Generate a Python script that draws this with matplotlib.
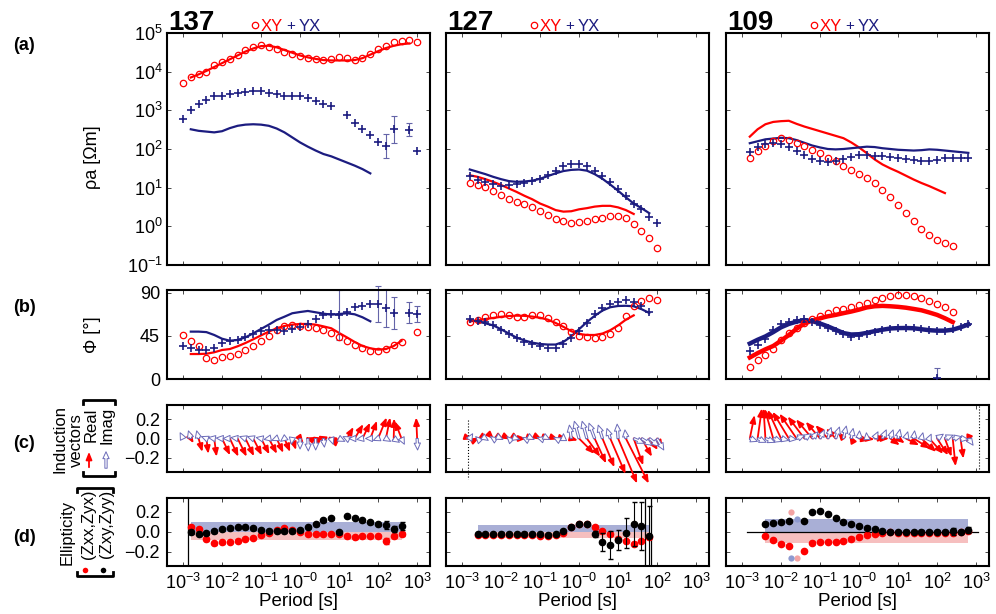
import numpy as np
import matplotlib
matplotlib.use('Agg')
import matplotlib.pyplot as plt
from matplotlib.lines import Line2D
from matplotlib.patches import FancyArrowPatch
from matplotlib.ticker import FixedLocator, NullLocator

plt.rcParams['font.family'] = ['Liberation Sans', 'DejaVu Sans']
plt.rcParams['mathtext.fontset'] = 'custom'
plt.rcParams['mathtext.rm'] = 'Liberation Sans'
plt.rcParams['mathtext.it'] = 'Liberation Sans:italic'
plt.rcParams['mathtext.bf'] = 'Liberation Sans:bold'

nan = np.nan

# ---------------- data ----------------
stations = ['137', '127', '109']

# log10 of the period [s], shared grid for every station
log_period = [-3.0, -2.8, -2.6, -2.4, -2.2, -2.0, -1.8, -1.6, -1.4, -1.2,
              -1.0, -0.8, -0.6, -0.4, -0.2, 0.0, 0.2, 0.4, 0.6, 0.8,
              1.0, 1.2, 1.4, 1.6, 1.8, 2.0, 2.2, 2.4, 2.6, 2.8, 3.0]

# apparent resistivity, log10(ohm m)
rho_xy_137 = [3.71, 3.87, 3.95, 3.99, 4.18, 4.24, 4.32, 4.44, 4.56, 4.63,
              4.69, 4.65, 4.58, 4.52, 4.45, 4.40, 4.35, 4.32, 4.30, 4.33,
              4.37, 4.35, 4.29, 4.35, 4.45, 4.58, 4.66, 4.76, 4.80, 4.82, 4.77]
model_rho_xy_137 = [nan, 3.85, 3.93, 4.02, 4.12, 4.22, 4.32, 4.42, 4.52, 4.60,
                    4.66, 4.67, 4.63, 4.56, 4.49, 4.42, 4.37, 4.33, 4.30, 4.29,
                    4.29, 4.29, 4.30, 4.35, 4.44, 4.53, 4.61, 4.67, 4.71, 4.73, nan]
rho_yx_137 = [2.77, 3.01, 3.16, 3.26, 3.36, 3.38, 3.43, 3.44, 3.48, 3.51,
              3.49, 3.44, 3.41, 3.38, 3.37, 3.36, 3.31, 3.25, 3.16, 3.11,
              nan, 2.88, 2.66, 2.52, 2.36, 2.19, 2.08, 2.51, nan, 2.50, 1.96]
err_rho_yx_137 = [nan, nan, nan, nan, nan, nan, nan, nan, nan, nan,
                  nan, nan, nan, nan, nan, nan, nan, nan, nan, nan,
                  nan, nan, nan, nan, nan, nan, 0.30, 0.35, nan, 0.16, nan]
model_rho_yx_137 = [nan, 2.51, 2.47, 2.45, 2.43, 2.46, 2.54, 2.60, 2.63, 2.64,
                    2.63, 2.60, 2.53, 2.43, 2.30, 2.17, 2.06, 1.96, 1.87, 1.81,
                    1.73, 1.65, 1.57, 1.48, 1.37, nan, nan, nan, nan, nan, nan]

rho_xy_127 = [nan, 1.11, 1.07, 1.01, 0.92, 0.80, 0.71, 0.64, 0.58, 0.49,
              0.40, 0.30, 0.20, 0.13, 0.09, 0.10, 0.14, 0.19, 0.22, 0.27,
              0.28, 0.22, 0.06, -0.12, -0.31, -0.55, nan, nan, nan, nan, nan]
model_rho_xy_127 = [nan, 1.32, 1.28, 1.22, 1.15, 1.07, 0.98, 0.89, 0.79, 0.70,
                    0.59, 0.51, 0.42, 0.38, 0.39, 0.44, 0.47, 0.51, 0.53, 0.53,
                    0.49, 0.42, 0.32, nan, nan, nan, nan, nan, nan, nan, nan]
rho_yx_127 = [nan, 1.29, 1.20, 1.15, 1.09, 1.05, 1.07, 1.10, 1.13, 1.16,
              1.23, 1.32, 1.42, 1.55, 1.61, 1.62, 1.56, 1.44, 1.31, 1.14,
              0.96, 0.78, 0.59, 0.44, 0.25, 0.09, nan, nan, nan, nan, nan]
model_rho_yx_127 = [nan, 1.47, 1.41, 1.35, 1.28, 1.22, 1.17, 1.15, 1.16, 1.18,
                    1.23, 1.30, 1.37, 1.43, 1.46, 1.47, 1.44, 1.35, 1.23, 1.08,
                    0.92, 0.75, 0.59, 0.47, 0.34, nan, nan, nan, nan, nan, nan]

rho_xy_109 = [nan, 1.78, 1.95, 2.09, 2.21, 2.28, 2.24, 2.16, 2.07, 1.98,
              1.89, 1.78, 1.68, 1.56, 1.45, 1.35, 1.24, 1.11, 0.94, 0.75,
              0.56, 0.34, 0.15, -0.06, -0.22, -0.35, -0.44, -0.51, nan, nan, nan]
model_rho_xy_109 = [nan, 2.32, 2.51, 2.64, 2.70, 2.72, 2.73, 2.65, 2.58, 2.52,
                    2.46, 2.40, 2.34, 2.28, 2.17, 2.04, 1.89, 1.73, 1.60, 1.50,
                    1.41, 1.31, 1.21, 1.12, 1.04, 0.95, 0.86, nan, nan, nan, nan]
rho_yx_109 = [nan, 1.93, 2.04, 2.13, 2.15, 2.13, 2.06, 1.96, 1.84, 1.74,
              1.68, 1.67, 1.70, 1.75, 1.80, 1.84, 1.85, 1.83, 1.81, 1.80,
              1.78, 1.75, 1.72, 1.69, 1.70, 1.72, 1.76, 1.78, 1.77, 1.78, nan]
model_rho_yx_109 = [nan, 2.15, 2.20, 2.25, 2.27, 2.29, 2.28, 2.23, 2.16, 2.09,
                    2.04, 2.00, 1.99, 2.00, 2.02, 2.04, 2.06, 2.05, 2.02, 2.00,
                    1.98, 1.97, 1.96, 1.97, 1.99, 1.98, 1.96, 1.94, 1.92, 1.90, nan]

# phase [deg]
phase_xy_137 = [45.6, 40.0, 34.8, 22.0, 20.2, 23.3, 24.4, 26.1, 30.0, 34.8,
                40.0, 45.3, 51.2, 55.0, 56.1, 55.0, 54.0, 53.3, 51.5, 48.4,
                44.2, 40.0, 35.5, 32.1, 28.9, 28.9, 31.3, 35.5, 38.3, nan, 48.8]
model_phase_xy_137 = [nan, 26.1, 26.1, 26.4, 27.9, 30.3, 31.3, 34.2, 37.6, 41.5,
                      45.6, 49.5, 53.0, 55.4, 56.8, 57.5, 57.5, 56.8, 55.0, 53.0,
                      48.1, 43.5, 38.7, 34.5, 32.1, 30.7, 31.3, 34.5, 40.0, nan, nan]
phase_yx_137 = [34.8, 32.1, 30.3, 30.3, 32.7, 37.3, 39.4, 40.8, 43.5, 47.0,
                50.2, 51.2, 51.2, 50.5, 52.3, 54.3, 57.8, 63.0, 67.2, 67.6,
                67.2, 69.7, 75.6, 76.6, 78.7, 78.4, 73.9, 69.0, nan, 69.3, 67.9]
err_phase_yx_137 = [nan, nan, nan, nan, nan, nan, nan, nan, nan, nan,
                    nan, nan, nan, nan, nan, nan, nan, nan, nan, nan,
                    26, nan, nan, nan, nan, 19, 20, 17, nan, 11, 8]
model_phase_yx_137 = [nan, 49.5, 49.5, 49.0, 46.0, 42.1, 40.0, 40.8, 43.5, 47.7,
                      52.3, 56.8, 61.7, 65.1, 68.7, 70.0, 71.1, 69.7, 68.3, 67.2,
                      67.9, 68.7, 67.6, 64.5, 60.3, nan, nan, nan, nan, nan, nan]

phase_xy_127 = [nan, 59.6, 61.7, 64.5, 66.9, 68.0, 66.9, 65.0, 65.2, 66.9,
                66.5, 63.4, 59.6, 55.4, 48.8, 44.7, 43.8, 42.5, 43.5, 46.9,
                53.7, 65.8, 76.6, 81.8, 84.3, 82.6, nan, nan, nan, nan, nan]
model_phase_xy_127 = [nan, 60.0, 61.5, 62.7, 63.8, 65.0, 65.8, 66.2, 66.0, 65.2,
                      64.0, 62.0, 58.5, 54.5, 50.0, 47.0, 46.0, 46.0, 47.5, 51.0,
                      56.0, 62.0, 66.5, nan, nan, nan, nan, nan, nan, nan, nan]
phase_yx_127 = [nan, 62.4, 60.9, 59.3, 56.1, 51.2, 46.7, 42.5, 39.0, 36.6,
                34.5, 32.4, 32.4, 36.2, 42.5, 50.5, 58.9, 67.6, 74.2, 78.0,
                80.1, 82.2, 80.8, 75.9, 70.0, nan, nan, nan, nan, nan, nan]
model_phase_yx_127 = [nan, 61.5, 60.0, 58.2, 56.0, 52.0, 47.5, 43.2, 40.3, 38.0,
                      36.6, 36.0, 36.0, 38.8, 44.5, 52.0, 59.5, 66.0, 71.5, 75.0,
                      76.3, 76.5, 76.0, 73.0, 69.0, nan, nan, nan, nan, nan, nan]

phase_xy_109 = [nan, 12.9, 19.5, 24.7, 31.3, 40.8, 47.7, 53.6, 58.9, 63.0,
                66.2, 68.7, 71.7, 73.5, 75.6, 77.0, 79.1, 82.2, 84.6, 86.7,
                87.8, 88.1, 87.1, 85.0, 81.8, 78.7, 75.0, 70.0, nan, nan, nan]
model_phase_xy_109 = [nan, 22.5, 27.0, 31.0, 34.5, 40.0, 46.0, 52.5, 58.0, 61.0,
                      63.5, 65.5, 67.0, 68.8, 70.5, 72.5, 74.8, 76.0, 76.4, 76.0,
                      75.4, 74.5, 73.2, 71.8, 69.5, 67.0, 63.5, 59.5, nan, nan, nan]
phase_yx_109 = [nan, 29.6, 35.2, 41.4, 51.2, 57.2, 59.9, 61.7, 62.4, 59.6,
                56.1, 53.6, 50.2, 46.7, 44.2, 45.3, 47.4, 49.5, 51.2, 52.6,
                53.0, 53.0, 53.0, 51.9, 50.9, 49.8, 50.5, 51.9, 54.5, 57.5, nan]
model_phase_yx_109 = [nan, 37.0, 41.0, 44.5, 49.0, 54.0, 57.5, 60.0, 61.5, 60.5,
                      58.0, 55.0, 51.5, 48.0, 46.5, 46.8, 48.2, 50.0, 51.5, 52.8,
                      53.2, 53.3, 53.0, 52.0, 51.0, 50.5, 50.5, 51.5, 54.0, 57.0, nan]
# single outlying YX phase point at station 109
outlier_log_period_109 = [2.0]
outlier_phase_yx_109 = [1.0]
outlier_err_109 = [10.0]

# induction vectors (x and y components, real and imaginary)
re_x_137 = [nan, 0.03, 0.04, 0.02, 0.025, 0.085, 0.09, 0.095, 0.09, 0.09,
            0.088, 0.085, 0.07, 0.06, 0.04, 0.035, -0.03, -0.04, -0.06, -0.04,
            0.01, 0.07, 0.09, 0.08, 0.07, 0.09, 0.045, 0.005, -0.07, nan, -0.01]
re_y_137 = [nan, -0.05, -0.14, -0.16, -0.19, -0.175, -0.19, -0.19, -0.185, -0.175,
            -0.165, -0.16, -0.15, -0.14, -0.12, -0.05, 0.01, 0.02, 0.03, 0.02,
            0.01, 0.12, 0.15, 0.165, 0.185, 0.22, 0.22, 0.21, 0.18, nan, 0.22]
im_x_137 = [-0.03, -0.025, -0.02, -0.05, -0.06, -0.06, -0.07, -0.07, -0.06, -0.06,
            -0.05, -0.05, -0.05, -0.04, -0.01, 0.0, 0.005, 0.0, 0.01, 0.02,
            0.06, -0.04, -0.06, -0.06, -0.05, -0.05, 0.05, 0.06, 0.03, nan, 0.005]
im_y_137 = [0.06, 0.08, 0.08, 0.02, 0.01, 0.005, 0.0, 0.01, 0.02, 0.02,
            0.01, -0.01, -0.02, -0.03, -0.06, -0.11, -0.13, -0.12, -0.09, -0.06,
            -0.03, 0.02, 0.0, -0.01, 0.0, -0.02, -0.03, -0.04, -0.06, nan, -0.12]

re_x_127 = [nan, 0.03, 0.02, 0.03, 0.01, 0.03, 0.02, 0.03, 0.02, 0.03,
            0.02, 0.03, 0.03, 0.04, 0.07, 0.16, 0.14, 0.12, 0.125, 0.16,
            0.20, 0.24, 0.10, 0.11, 0.09, 0.06, nan, nan, nan, nan, nan]
re_y_127 = [nan, -0.01, 0.01, -0.02, -0.01, -0.02, -0.01, -0.02, 0.0, -0.01,
            -0.01, -0.01, -0.01, -0.01, -0.02, -0.16, -0.19, -0.26, -0.30, -0.37,
            -0.47, -0.47, -0.28, -0.19, -0.12, -0.10, nan, nan, nan, nan, nan]
im_x_127 = [nan, 0.03, -0.02, 0.03, -0.03, 0.02, -0.02, 0.03, -0.02, 0.02,
            -0.03, 0.02, -0.02, 0.0, -0.02, -0.05, -0.05, -0.06, -0.045, -0.035,
            -0.01, -0.01, 0.11, 0.11, 0.10, 0.07, nan, nan, nan, nan, nan]
im_y_127 = [nan, 0.05, 0.02, -0.02, 0.02, -0.01, 0.02, -0.01, 0.01, -0.01,
            0.01, -0.01, 0.01, 0.05, 0.14, 0.18, 0.18, 0.16, 0.14, 0.105,
            0.15, 0.09, -0.05, -0.07, -0.08, -0.12, nan, nan, nan, nan, nan]

re_x_109 = [nan, 0.05, 0.045, -0.02, -0.09, -0.14, -0.17, -0.18, -0.175, -0.17,
            -0.15, -0.13, -0.10, -0.06, -0.02, 0.11, 0.08, 0.12, 0.07, 0.10,
            0.07, 0.14, 0.17, 0.155, 0.145, 0.115, 0.07, 0.03, 0.03, -0.02, nan]
re_y_109 = [nan, 0.245, 0.315, 0.315, 0.31, 0.30, 0.28, 0.26, 0.23, 0.20,
            0.175, 0.14, 0.105, 0.07, 0.035, -0.02, -0.01, 0.01, 0.0, -0.07,
            -0.05, -0.07, -0.105, -0.14, -0.16, -0.175, -0.19, -0.29, -0.21, -0.05, nan]
im_x_109 = [nan, 0.08, 0.09, 0.10, 0.09, 0.08, 0.08, 0.085, 0.07, 0.06,
            0.045, 0.035, 0.04, 0.03, 0.02, 0.005, -0.005, 0.035, 0.04, 0.03,
            0.02, 0.02, 0.01, 0.015, 0.02, 0.065, 0.085, 0.09, 0.08, 0.05, nan]
im_y_109 = [nan, -0.03, -0.04, -0.04, -0.03, -0.02, -0.01, 0.035, 0.05, 0.07,
            0.09, 0.115, 0.12, 0.13, 0.105, 0.08, 0.06, 0.07, 0.09, 0.09,
            0.095, 0.07, 0.08, 0.06, 0.045, 0.045, 0.035, 0.02, -0.01, -0.07, nan]

# ellipticity: red = (Zxx,Zyx), black = (Zxy,Zyy)
ell_xx_137 = [nan, 0.05, 0.03, -0.07, -0.11, -0.10, -0.10, -0.09, -0.07, -0.06,
              -0.03, -0.01, 0.02, 0.04, 0.02, 0.0, -0.02, -0.02, -0.02, -0.02,
              -0.02, -0.04, -0.05, -0.04, -0.04, -0.04, -0.09, -0.04, -0.02, nan, nan]
err_xx_137 = [nan, 0.012, 0.012, 0.015, 0.015, 0.015, 0.012, 0.012, 0.012, 0.012,
              0.012, 0.012, 0.012, 0.012, 0.012, 0.012, 0.012, 0.012, 0.012, 0.012,
              0.012, 0.015, 0.015, 0.015, 0.015, 0.015, 0.03, 0.02, 0.02, nan, nan]
ell_xy_137 = [nan, 0.00, -0.02, -0.01, 0.01, 0.03, 0.04, 0.05, 0.05, 0.04,
              0.02, 0.01, 0.01, 0.01, 0.01, 0.02, 0.05, 0.08, 0.12, 0.14,
              0.0, 0.16, 0.14, 0.12, 0.10, 0.08, 0.07, 0.03, 0.06, nan, nan]
err_xy_137 = [nan, 0.015, 0.015, 0.015, 0.015, 0.015, 0.015, 0.015, 0.015, 0.015,
              0.015, 0.015, 0.015, 0.015, 0.015, 0.015, 0.015, 0.015, 0.015, 0.015,
              0.015, 0.015, 0.015, 0.015, 0.015, 0.015, 0.04, 0.03, 0.04, nan, nan]

ell_xx_127 = [nan, nan, -0.03, -0.03, -0.025, -0.03, -0.03, -0.025, -0.03, -0.03,
              -0.035, -0.04, -0.03, -0.01, 0.05, 0.08, 0.08, 0.05, 0.01, -0.02,
              -0.07, -0.09, -0.115, -0.085, -0.05, nan, nan, nan, nan, nan, nan]
err_xx_127 = [nan, nan, 0.012, 0.012, 0.012, 0.012, 0.012, 0.012, 0.012, 0.012,
              0.012, 0.012, 0.012, 0.012, 0.012, 0.012, 0.012, 0.015, 0.015, 0.015,
              0.015, 0.015, 0.015, 0.015, 0.015, nan, nan, nan, nan, nan, nan]
ell_xy_127 = [nan, nan, -0.02, -0.02, -0.02, -0.015, -0.02, -0.02, -0.015, -0.02,
              -0.02, -0.025, -0.02, 0.01, 0.055, 0.085, 0.08, -0.02, -0.10, -0.13,
              -0.08, -0.01, 0.08, 0.06, -0.04, nan, nan, nan, nan, nan, nan]
err_xy_127 = [nan, nan, 0.012, 0.012, 0.012, 0.012, 0.012, 0.012, 0.012, 0.012,
              0.012, 0.012, 0.012, 0.012, 0.012, 0.012, 0.012, 0.03, 0.09, 0.14,
              0.10, 0.15, 0.22, 0.24, 0.30, nan, nan, nan, nan, nan, nan]

ell_xx_109 = [nan, nan, nan, -0.04, -0.08, -0.12, -0.14, nan, -0.19, -0.105,
              -0.10, -0.10, -0.095, -0.085, -0.065, -0.045, -0.03, -0.02, -0.005, 0.0,
              -0.005, -0.005, -0.01, -0.005, -0.01, -0.005, -0.01, -0.005, 0.0, 0.01, nan]
err_xx_109 = [nan, nan, nan, 0.012, 0.012, 0.012, 0.012, nan, 0.012, 0.012,
              0.012, 0.012, 0.012, 0.012, 0.012, 0.012, 0.012, 0.012, 0.012, 0.012,
              0.012, 0.012, 0.012, 0.012, 0.012, 0.012, 0.012, 0.012, 0.012, 0.012, nan]
ell_xy_109 = [nan, nan, nan, 0.085, 0.09, 0.10, 0.11, nan, 0.11, 0.20,
              0.21, 0.18, 0.14, 0.10, 0.08, 0.06, 0.045, 0.03, 0.01, 0.005,
              0.0, 0.005, 0.0, 0.005, 0.0, 0.005, 0.0, 0.01, 0.005, 0.02, nan]
err_xy_109 = [nan, nan, nan, 0.012, 0.012, 0.012, 0.012, nan, 0.012, 0.012,
              0.012, 0.012, 0.012, 0.012, 0.012, 0.012, 0.012, 0.012, 0.012, 0.012,
              0.012, 0.012, 0.012, 0.012, 0.012, 0.012, 0.012, 0.035, 0.012, 0.03, nan]
# rejected (faded) ellipticity points at station 109
faded_log_period_109 = [-1.74, -1.58]
faded_xx_109 = [0.20, -0.256]
faded_xy_109 = [-0.256, 0.13]

# shaded ellipticity bands (upper for Zxy,Zyy and lower for Zxx,Zyx)
band_upper = [0.10, 0.065, 0.13]
band_lower = [-0.08, -0.065, -0.115]
# vertical guide lines in the ellipticity panels (log10 period)
ell_guides = [[-2.88], [1.70, 1.85], []]

# ---------------- style ----------------
RED = '#ff0000'
NAVY = '#1c1c80'
NAVY_ERR = '#6464a8'
IMAG = '#6a6ab8'
BAND_BLUE = '#a9afd6'
BAND_PINK = '#f6bfbf'
FADED_PINK = '#f3a3a3'
FADED_BLUE = '#8e9ad0'

W, H = 996, 614
fig = plt.figure(figsize=(W / 100, H / 100), dpi=100)

cols_left = [167, 446, 726]
col_w = 263
rows = {'a': (33, 232), 'b': (290, 89), 'c': (405, 67), 'd': (498, 68)}
VEC_SCALE = 2.44   # decades per unit, keeps arrows on the same pixel scale as the y axis

T = 10.0 ** np.array(log_period)


def fx(x):
    return x / W


def fy(y):
    return 1 - y / H


def px_axes(left, top, width, height):
    return fig.add_axes([left / W, 1 - (top + height) / H, width / W, height / H])


def base_style(ax, show_x):
    ax.set_xscale('log')
    ax.set_xlim(10 ** -3.41, 10 ** 3.33)
    ax.xaxis.set_major_locator(FixedLocator([10.0 ** k for k in range(-3, 4)]))
    ax.xaxis.set_minor_locator(NullLocator())
    ax.tick_params(direction='in', length=3, width=0.5, top=True, right=True,
                   labelsize=13, pad=5)
    if show_x:
        ax.set_xticklabels(['$10^{-3}$', '$10^{-2}$', '$10^{-1}$', '$10^{-0}$',
                            '$10^{1}$', '$10^{2}$', '$10^{3}$'])
    else:
        ax.set_xticklabels([])
    for sp in ax.spines.values():
        sp.set_linewidth(1.5)


def draw_err(ax, lt, vals, errs, color, log=False, clip=False):
    for t, v, e in zip(lt, vals, errs):
        if np.isnan(v) or np.isnan(e):
            continue
        if log:
            lo, hi = 10 ** (v - e), 10 ** (v + e)
        else:
            lo, hi = v - e, v + e
        ax.vlines(10 ** t, lo, hi, color=color, lw=0.8, clip_on=clip, zorder=2)
        ax.plot([10 ** t, 10 ** t], [lo, hi], ls='none', marker='_', ms=4,
                mew=0.8, color=color, clip_on=clip, zorder=2)


def draw_vectors(ax, ux, uy, real):
    for t, dx, dy in zip(log_period, ux, uy):
        if np.isnan(dx) or abs(dx) + abs(dy) < 1e-3:
            continue
        if real:
            props = dict(arrowstyle='-|>,head_length=0.45,head_width=0.18', color=RED,
                         lw=1.3, shrinkA=0, shrinkB=0, mutation_scale=10)
        else:
            props = dict(arrowstyle='simple,head_length=0.55,head_width=0.5,tail_width=0.18',
                         fc='white', ec=IMAG, lw=0.7, shrinkA=0, shrinkB=0, mutation_scale=9)
        ax.annotate('', xy=(10 ** (t + dx * VEC_SCALE), dy), xytext=(10 ** t, 0),
                    arrowprops=props, annotation_clip=False)


rho_data = {
    '137': (rho_xy_137, model_rho_xy_137, rho_yx_137, model_rho_yx_137),
    '127': (rho_xy_127, model_rho_xy_127, rho_yx_127, model_rho_yx_127),
    '109': (rho_xy_109, model_rho_xy_109, rho_yx_109, model_rho_yx_109),
}
phase_data = {
    '137': (phase_xy_137, model_phase_xy_137, phase_yx_137, model_phase_yx_137),
    '127': (phase_xy_127, model_phase_xy_127, phase_yx_127, model_phase_yx_127),
    '109': (phase_xy_109, model_phase_xy_109, phase_yx_109, model_phase_yx_109),
}
vec_data = {
    '137': (re_x_137, re_y_137, im_x_137, im_y_137),
    '127': (re_x_127, re_y_127, im_x_127, im_y_127),
    '109': (re_x_109, re_y_109, im_x_109, im_y_109),
}
ell_data = {
    '137': (ell_xx_137, err_xx_137, ell_xy_137, err_xy_137),
    '127': (ell_xx_127, err_xx_127, ell_xy_127, err_xy_127),
    '109': (ell_xx_109, err_xx_109, ell_xy_109, err_xy_109),
}

for ci, (name, left) in enumerate(zip(stations, cols_left)):
    first = ci == 0
    model_lw = 3.2 if name == '109' else 1.6

    # (a) apparent resistivity
    ax = px_axes(left, rows['a'][0], col_w, rows['a'][1])
    base_style(ax, False)
    ax.set_yscale('log')
    ax.set_ylim(0.1, 1e5)
    ax.yaxis.set_major_locator(FixedLocator([10.0 ** k for k in range(-1, 6)]))
    ax.yaxis.set_minor_locator(NullLocator())
    if first:
        ax.set_yticklabels(['$10^{%d}$' % k for k in range(-1, 6)])
        ax.tick_params(axis='y', pad=3)
    else:
        ax.set_yticklabels([])
    xy, mxy, yx, myx = rho_data[name]
    ax.plot(T, 10 ** np.array(mxy), color=RED, lw=1.6, zorder=2)
    ax.plot(T, 10 ** np.array(myx), color=NAVY, lw=1.6, zorder=2)
    if name == '137':
        draw_err(ax, log_period, yx, err_rho_yx_137, NAVY_ERR, log=True)
    ax.plot(T, 10 ** np.array(xy), 'o', ms=4.6, mfc='none', mec=RED, mew=0.9, zorder=3)
    ax.plot(T, 10 ** np.array(yx), '+', ms=6, mew=1.2, color=NAVY, zorder=3)

    # station number and legend above the panel
    fig.text(fx(left + 1), fy(30), name, size=20, weight='bold', va='baseline')
    fig.add_artist(Line2D([fx(left + 88)], [fy(25)], marker='o', ms=4.6, mfc='none',
                          mec=RED, mew=0.9, transform=fig.transFigure))
    fig.text(fx(left + 94), fy(31), 'XY', color=RED, size=12, va='baseline')
    fig.text(fx(left + 124), fy(30), '+', color=NAVY, size=11, ha='center', va='baseline')
    fig.text(fx(left + 132), fy(31), 'YX', color=NAVY, size=12, va='baseline')

    # (b) phase
    ax = px_axes(left, rows['b'][0], col_w, rows['b'][1])
    base_style(ax, False)
    ax.set_ylim(0, 93)
    ax.set_yticks([0, 45, 90])
    if not first:
        ax.set_yticklabels([])
    xy, mxy, yx, myx = phase_data[name]
    ax.plot(T, mxy, color=RED, lw=model_lw, zorder=2)
    ax.plot(T, myx, color=NAVY, lw=model_lw, zorder=2)
    if name == '137':
        draw_err(ax, log_period, yx, err_phase_yx_137, NAVY_ERR)
    if name == '109':
        draw_err(ax, outlier_log_period_109, outlier_phase_yx_109, outlier_err_109,
                 NAVY_ERR, clip=True)
        ax.plot(10 ** np.array(outlier_log_period_109), outlier_phase_yx_109, '+',
                ms=6, mew=1.2, color=NAVY, zorder=3)
    ax.plot(T, xy, 'o', ms=4.6, mfc='none', mec=RED, mew=0.9, zorder=3)
    ax.plot(T, yx, '+', ms=6, mew=1.2, color=NAVY, zorder=3)

    # (c) induction vectors
    ax = px_axes(left, rows['c'][0], col_w, rows['c'][1])
    base_style(ax, False)
    ax.set_ylim(-0.35, 0.35)
    ax.set_yticks([-0.2, 0.0, 0.2])
    ax.set_yticklabels(['\u22120.2', '0.0', '0.2'] if first else [])
    rx, ry, ix, iy = vec_data[name]
    draw_vectors(ax, rx, ry, True)
    draw_vectors(ax, ix, iy, False)
    if name == '127':
        ax.plot([10 ** -2.85] * 2, [0.19, -0.42], ls=':', color='k', lw=0.8, clip_on=False)
    if name == '109':
        ax.plot([10 ** 3.08] * 2, [0.34, -0.34], ls=':', color='k', lw=0.8, clip_on=False)

    # (d) ellipticity
    ax = px_axes(left, rows['d'][0], col_w, rows['d'][1])
    base_style(ax, True)
    ax.set_ylim(-0.34, 0.34)
    ax.set_yticks([-0.2, 0.0, 0.2])
    ax.set_yticklabels(['\u22120.2', '0.0', '0.2'] if first else [])
    xx, exx, xy, exy = ell_data[name]
    valid = ~np.isnan(np.array(xy))
    t0, t1 = T[valid][0], T[valid][-1]
    ax.fill_between([t0, t1], 0, band_upper[ci], color=BAND_BLUE, lw=0, zorder=1)
    ax.fill_between([t0, t1], band_lower[ci], 0, color=BAND_PINK, lw=0, zorder=1)
    for g in ell_guides[ci]:
        ax.axvline(10 ** g, color='k', lw=0.9, zorder=2)
    if name == '109':
        ax.plot([10 ** -2.87, 10 ** 3.06], [0, 0], color='k', lw=0.9, zorder=2)
        ax.plot(10 ** np.array(faded_log_period_109), faded_xx_109, 'o', ms=4.5,
                color=FADED_PINK, mec='none', zorder=3)
        ax.plot(10 ** np.array(faded_log_period_109), faded_xy_109, 'o', ms=4.5,
                color=FADED_BLUE, mec='none', zorder=3)
    ax.errorbar(T, xx, yerr=exx, fmt='o', color=RED, ms=4.5, capsize=1.8,
                elinewidth=0.8, zorder=3)
    ax.errorbar(T, xy, yerr=exy, fmt='o', color='black', ms=4.5, capsize=1.8,
                elinewidth=0.8, zorder=4)

    fig.text(fx(left + col_w / 2), fy(602), 'Period [s]', size=13.5, ha='center', va='center')

# ---------------- row labels ----------------
for letter, y in zip(['(a)', '(b)', '(c)', '(d)'], [45, 307, 443, 537]):
    fig.text(fx(13), fy(y), letter, size=13, weight='bold', va='center')

fig.text(fx(92), fy(157), '\u03c1a [\u03a9m]', size=13, rotation=90, ha='center', va='center')
fig.text(fx(92), fy(335), '\u03a6 [\u00b0]', size=13, rotation=90, ha='center', va='center')


def bracket(x0, x1, ytop, ybot):
    for yb, yt in [(ytop, ytop + 4), (ybot, ybot - 4)]:
        fig.add_artist(Line2D([fx(x0), fx(x0), fx(x1), fx(x1)],
                              [fy(yt), fy(yb), fy(yb), fy(yt)],
                              color='k', lw=2, transform=fig.transFigure))


# induction vector label
fig.text(fx(60), fy(439), 'Induction', size=12, rotation=90, ha='center', va='center')
fig.text(fx(76), fy(440), 'vectors', size=12, rotation=90, ha='center', va='center')
fig.text(fx(91), fy(425), 'Real', size=12, rotation=90, ha='center', va='center')
fig.text(fx(107), fy(425), 'Imag', size=12, rotation=90, ha='center', va='center')
fig.add_artist(FancyArrowPatch((fx(89), fy(470)), (fx(89), fy(449)), transform=fig.transFigure,
                               arrowstyle='-|>,head_length=0.45,head_width=0.18',
                               mutation_scale=10, color=RED, lw=1.3))
fig.add_artist(FancyArrowPatch((fx(106), fy(471)), (fx(106), fy(449)), transform=fig.transFigure,
                               arrowstyle='simple,head_length=0.55,head_width=0.5,tail_width=0.18',
                               mutation_scale=9, fc='white', ec=IMAG, lw=0.7))
bracket(83, 115, 400, 476)

# ellipticity label
fig.text(fx(67), fy(532), 'Ellipticity', size=12, rotation=90, ha='center', va='center')
fig.text(fx(88), fy(524), '(Zxx,Zyx)', size=12, rotation=90, ha='center', va='center')
fig.text(fx(106), fy(524), '(Zxy,Zyy)', size=12, rotation=90, ha='center', va='center')
fig.add_artist(Line2D([fx(85)], [fy(570)], marker='o', ms=4, color=RED, mec='none',
                      transform=fig.transFigure))
fig.add_artist(Line2D([fx(103)], [fy(570)], marker='o', ms=4, color='black', mec='none',
                      transform=fig.transFigure))
bracket(77, 113, 488, 576)

fig.savefig('out.png', dpi=100)
